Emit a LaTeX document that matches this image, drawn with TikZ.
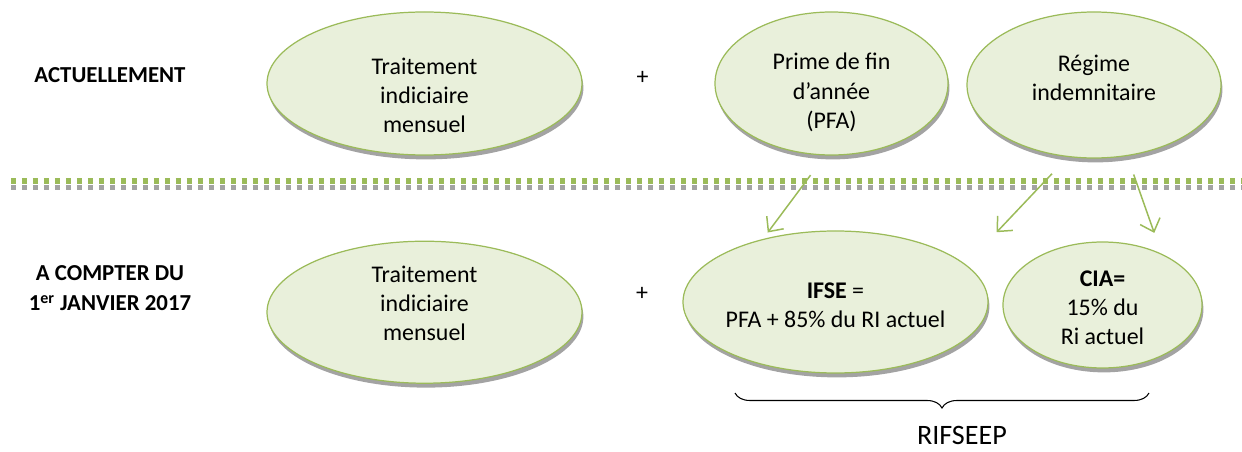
\documentclass[tikz,border=0pt]{standalone}
\usepackage{fontspec}
\setmainfont{Carlito}
\usepackage{tikz}
\usetikzlibrary{positioning}
\usetikzlibrary{shapes.geometric}
\usetikzlibrary{shadows}
\usetikzlibrary{arrows.meta}
\usetikzlibrary{decorations.pathreplacing}
\definecolor{leafgreen}{HTML}{9BBB59}
\definecolor{paleleaf}{HTML}{E9F0DB}
\definecolor{shadegray}{HTML}{A3A3A3}
\tikzset{bubble/.style={shape=ellipse, draw=leafgreen, line width=0.7pt, fill=paleleaf,
    drop shadow={shadow xshift=0.8pt, shadow yshift=-2.5pt, fill=shadegray, opacity=1}},
  intext/.style={align=center, font=\fontsize{13.6}{16.6}\selectfont},
  rowlabel/.style={align=center, font=\fontsize{13}{17.5}\selectfont\bfseries},
  feed/.style={draw=leafgreen, line width=0.85pt, -{Straight Barb[length=6.5pt, width=12pt]}}}

\begin{document}
\begin{tikzpicture}
  \useasboundingbox (0,0) rectangle (24.84,-9.04);
  % first row
  \node[rowlabel] (actu) at (2.2,-1.5) {ACTUELLEMENT};
  \node[bubble, minimum width=6.3cm, minimum height=2.86cm,
    label={[intext, yshift=-0.24cm]center:Traitement\\indiciaire\\mensuel}] (trait1) at (8.49,-1.67) {};
  \node[intext] (plus1) at (12.85,-1.56) {+};
  \node[bubble, minimum width=4.66cm, minimum height=2.86cm,
    label={[intext, yshift=-0.18cm]center:Prime de fin\\d’année\\(PFA)}] (pfa) at (16.63,-1.67) {};
  \node[bubble, minimum width=5.08cm, minimum height=2.92cm,
    label={[intext, yshift=0.14cm]center:Régime\\indemnitaire}] (ri) at (21.88,-1.70) {};

  % separation
  \draw[shadegray, line width=3pt, dash pattern=on 2.85pt off 3.4pt] (0.22,-3.75) -- (24.84,-3.75);
  \draw[leafgreen, line width=3.4pt, dash pattern=on 2.85pt off 3.4pt] (0.22,-3.62) -- (24.84,-3.62);

  % second row
  \node[rowlabel] (compter) at (2.2,-5.76) {A COMPTER DU\\1\textsuperscript{er} JANVIER 2017};
  \node[bubble, minimum width=6.3cm, minimum height=2.84cm, below=1.7cm of trait1,
    label={[intext, yshift=0.18cm]center:Traitement\\indiciaire\\mensuel}] (trait2) {};
  \node[intext] (plus2) at (12.84,-5.88) {+};
  \node[bubble, minimum width=6.1cm, minimum height=2.84cm,
    label={[intext, yshift=-0.06cm]center:\textbf{IFSE} =\\PFA + 85\% du RI actuel}] (ifse) at (16.71,-6.04) {};
  \node[bubble, minimum width=3.98cm, minimum height=2.52cm,
    label={[intext, yshift=-0.06cm]center:\textbf{CIA=}\\15\% du\\Ri actuel}] (cia) at (22.05,-6.1) {};

  \draw[feed, shorten <=0.49cm, shorten >=0.16cm] (pfa.265) -- (ifse.139);
  \draw[feed, shorten <=0.46cm, shorten >=0.89cm] (ri.250) -- (ifse.16);
  \draw[feed, shorten <=0.39cm, shorten >=0.44cm] (ri.295) -- (cia.41);

  % brace
  \coordinate (bleft) at (14.7,-7.86);
  \coordinate (bright) at (22.98,-7.86);
  \draw[line width=0.6pt, decorate, decoration={brace, mirror, amplitude=0.3cm}] (bleft) -- (bright);
  \node[font=\fontsize{16}{19}\selectfont] (rif) at (19.24,-8.7) {RIFSEEP};
\end{tikzpicture}
\end{document}
